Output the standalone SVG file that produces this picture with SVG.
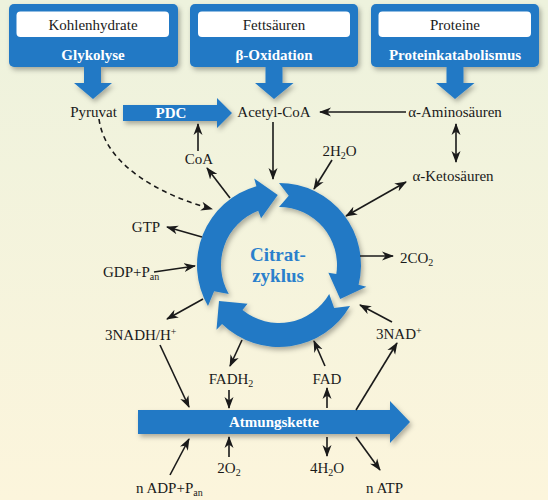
<svg xmlns="http://www.w3.org/2000/svg" width="548" height="500" viewBox="0 0 548 500">
<style>
.t{font-family:"Liberation Serif","Times New Roman",serif;font-size:15px;fill:#1a1a1a}
.b{font-family:"Liberation Serif","Times New Roman",serif;font-size:15px;font-weight:bold;fill:#ffffff}
.c{font-family:"Liberation Serif","Times New Roman",serif;font-size:19px;font-weight:bold;fill:#2a80cc}
.blue{fill:#2279c5}
.ln{stroke:#1a1a1a;stroke-width:1.6;fill:none;marker-end:url(#ah)}
.dbl{marker-start:url(#ah)}
.sub{font-size:10px}
</style>
<defs>
<linearGradient id="bg" x1="0" y1="0" x2="0" y2="1">
<stop offset="0" stop-color="#edf2dd"/>
<stop offset="1" stop-color="#fcf5dc"/>
</linearGradient>
<filter id="sh" x="-10%" y="-10%" width="130%" height="130%">
<feDropShadow dx="2" dy="3" stdDeviation="2.5" flood-color="#000" flood-opacity="0.3"/>
</filter>
<marker id="ah" markerUnits="userSpaceOnUse" markerWidth="12" markerHeight="10" viewBox="0 0 12 10" refX="11" refY="5" orient="auto-start-reverse">
<path d="M0,0.5 L12,5 L0,9.5 L3.5,5 Z" fill="#1a1a1a"/>
</marker>
</defs>
<rect width="548" height="500" fill="url(#bg)"/>

<g id="box-kohlenhydrate">
<g filter="url(#sh)" class="blue">
<rect x="9" y="4" width="169" height="63" rx="5"/>
<path d="M84,66 H101 V83 H112 L93,99 L74,83 H84 Z"/>
</g>
<rect x="16.5" y="11.5" width="152.5" height="25.5" rx="4" fill="#ffffff"/>
<text class="t" x="93" y="30" text-anchor="middle">Kohlenhydrate</text>
<text class="b" x="93" y="60" text-anchor="middle">Glykolyse</text>
</g>

<g id="box-fettsaeuren">
<g filter="url(#sh)" class="blue">
<rect x="190" y="4" width="168" height="63" rx="5"/>
<path d="M265.5,66 H282.5 V83 H293.5 L274,99 L255,83 H265.5 Z"/>
</g>
<rect x="198" y="11.5" width="152" height="25.5" rx="4" fill="#ffffff"/>
<text class="t" x="274" y="30" text-anchor="middle">Fettsäuren</text>
<text class="b" x="274" y="60" text-anchor="middle">β-Oxidation</text>
</g>

<g id="box-proteine">
<g filter="url(#sh)" class="blue">
<rect x="371" y="4" width="168" height="63" rx="5"/>
<path d="M446.5,66 H463.5 V83 H474.5 L455,99 L436,83 H446.5 Z"/>
</g>
<rect x="378.5" y="11.5" width="152.5" height="25.5" rx="4" fill="#ffffff"/>
<text class="t" x="455" y="30" text-anchor="middle">Proteine</text>
<text class="b" x="455" y="60" text-anchor="middle">Proteinkatabolismus</text>
</g>

<g id="pdc">
<path class="blue" filter="url(#sh)" d="M123,105 H217 V98 L232,113 L217,128 V121 H123 Z"/>
<text class="b" x="171" y="118" text-anchor="middle" font-size="14">PDC</text>
</g>

<g id="citratzyklus">
<g class="blue" filter="url(#sh)">
<path d="M207.99,306 A82,82 0 0 1 256.40,186.18 L254.19,178.49 L277.78,195.01 L261.08,218.32 L258.21,210.85 A58,58 0 0 0 228.77,294 L214.10,291.22 Z"/>
<path d="M279,183 A82,82 0 0 1 358.56,284.84 L366.33,286.77 L340.22,298.94 L328.38,272.82 L336.29,274.07 A58,58 0 0 0 279,207 L288.74,195.68 Z"/>
<path d="M350.01,306 A82,82 0 0 1 222.04,323.99 L216.48,329.74 L219,301.05 L247.53,303.86 L242.50,310.07 A58,58 0 0 0 329.23,294 L334.16,308.10 Z"/>
</g>
<text class="c" x="278" y="261" text-anchor="middle">Citrat-</text>
<text class="c" x="278" y="282" text-anchor="middle">zyklus</text>
</g>

<g id="atmungskette">
<path class="blue" filter="url(#sh)" d="M138,410 H390 V401 L410,422 L390,443 V434 H138 Z"/>
<text class="b" x="274" y="427" text-anchor="middle" font-size="16">Atmungskette</text>
</g>

<g id="labels">
<text id="pyruvat" class="t" x="93.5" y="117" text-anchor="middle">Pyruvat</text>
<text id="acetylcoa" class="t" x="274" y="117" text-anchor="middle">Acetyl-CoA</text>
<text id="aminosaeuren" class="t" x="455" y="117" text-anchor="middle">α-Aminosäuren</text>
<text id="ketosaeuren" class="t" x="453" y="181" text-anchor="middle">α-Ketosäuren</text>
<text id="h2o-top" class="t" x="339.5" y="156" text-anchor="middle">2H<tspan class="sub" dy="3">2</tspan><tspan dy="-3">O</tspan></text>
<text id="coa" class="t" x="199" y="164" text-anchor="middle">CoA</text>
<text id="gtp" class="t" x="146" y="232" text-anchor="middle">GTP</text>
<text id="gdp" class="t" x="103" y="277">GDP+P<tspan class="sub" dy="3">an</tspan></text>
<text id="co2" class="t" x="400" y="263">2CO<tspan class="sub" dy="3">2</tspan></text>
<text id="nadh" class="t" x="105" y="340">3NADH/H<tspan class="sub" dy="-5">+</tspan></text>
<text id="nad" class="t" x="376" y="339">3NAD<tspan class="sub" dy="-5">+</tspan></text>
<text id="fadh2" class="t" x="231" y="384" text-anchor="middle">FADH<tspan class="sub" dy="3">2</tspan></text>
<text id="fad" class="t" x="327" y="384" text-anchor="middle">FAD</text>
<text id="o2" class="t" x="229" y="473" text-anchor="middle">2O<tspan class="sub" dy="3">2</tspan></text>
<text id="h2o-bottom" class="t" x="327" y="473" text-anchor="middle">4H<tspan class="sub" dy="3">2</tspan><tspan dy="-3">O</tspan></text>
<text id="adp" class="t" x="136" y="493">n ADP+P<tspan class="sub" dy="3">an</tspan></text>
<text id="atp" class="t" x="366" y="493">n ATP</text>
</g>

<g id="connectors">
<line class="ln" x1="273" y1="122" x2="273" y2="179"/>
<line class="ln" x1="406" y1="112" x2="320" y2="112"/>
<line class="ln dbl" x1="456" y1="124" x2="456" y2="162"/>
<line class="ln dbl" x1="406" y1="182" x2="346" y2="216"/>
<line class="ln" x1="332" y1="160" x2="314" y2="189"/>
<line class="ln" x1="230" y1="198" x2="207" y2="168"/>
<line class="ln" x1="198" y1="151" x2="198" y2="124"/>
<path class="ln" stroke-dasharray="5,4" d="M99,119 C105,165 160,195 212,209"/>
<line class="ln" x1="202" y1="237" x2="167" y2="227"/>
<line class="ln" x1="154" y1="272" x2="195" y2="266"/>
<line class="ln" x1="203" y1="299" x2="167" y2="319"/>
<line class="ln" x1="160" y1="345" x2="189" y2="407"/>
<line class="ln" x1="242" y1="340" x2="230" y2="366"/>
<line class="ln" x1="229" y1="390" x2="229" y2="408"/>
<line class="ln" x1="325" y1="366" x2="314" y2="341"/>
<line class="ln" x1="327" y1="408" x2="327" y2="388"/>
<line class="ln" x1="392" y1="322" x2="360" y2="305"/>
<line class="ln" x1="356" y1="410" x2="397" y2="343"/>
<line class="ln" x1="360" y1="256" x2="393" y2="256"/>
<line class="ln" x1="170" y1="475" x2="189" y2="439"/>
<line class="ln" x1="229" y1="457" x2="229" y2="437"/>
<line class="ln" x1="327" y1="437" x2="327" y2="456"/>
<line class="ln" x1="356" y1="437" x2="380" y2="470"/>
</g>
</svg>
